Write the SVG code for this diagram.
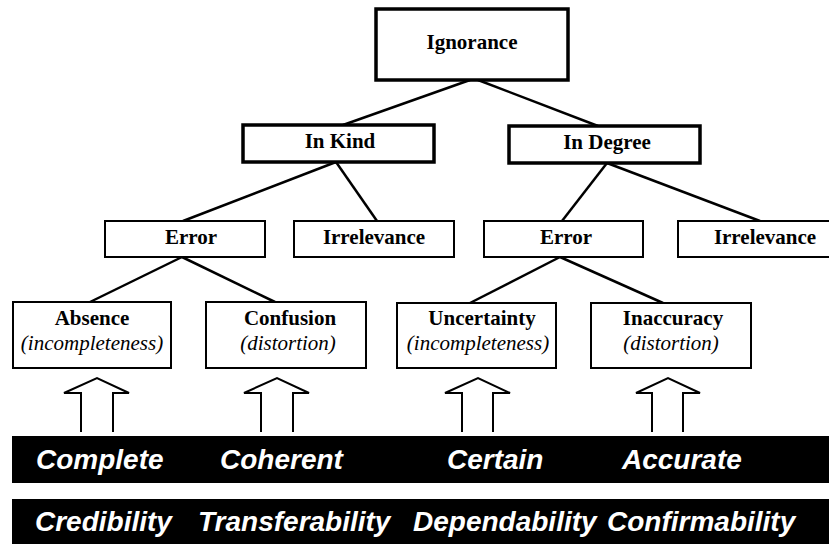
<svg xmlns="http://www.w3.org/2000/svg" width="829" height="544" viewBox="0 0 829 544">
<style>
.thick{fill:#fff;stroke:#000;stroke-width:3.5}
.thin{fill:#fff;stroke:#000;stroke-width:2}
.lbl{font-family:"Liberation Serif","Times New Roman",serif;font-weight:bold;font-size:21px;text-anchor:middle;fill:#000}
.sub{font-family:"Liberation Serif","Times New Roman",serif;font-style:italic;font-size:21px;text-anchor:middle;fill:#000}
.conn line{stroke:#000;stroke-width:2.5}
.arr{fill:none;stroke:#000;stroke-width:2;stroke-linejoin:miter}
.bar{fill:#000}
.wt{font-family:"Liberation Sans",Arial,sans-serif;font-weight:bold;font-style:italic;font-size:28px;fill:#fff}
</style>
<rect width="829" height="544" fill="#fff"/>
<g class="conn" id="connectors">
<line x1="470" y1="80" x2="343" y2="125"/>
<line x1="478" y1="80" x2="598" y2="126"/>
<line x1="336" y1="162" x2="183" y2="221"/>
<line x1="336" y1="162" x2="377" y2="221"/>
<line x1="607" y1="163" x2="562" y2="221"/>
<line x1="607" y1="163" x2="760" y2="221"/>
<line x1="182" y1="257" x2="90" y2="302"/>
<line x1="182" y1="257" x2="275" y2="302"/>
<line x1="560" y1="257" x2="470" y2="303"/>
<line x1="560" y1="257" x2="663" y2="303"/>
</g>
<g id="ignorance"><rect class="thick" x="376" y="9" width="192" height="71"/><text class="lbl" x="472" y="49">Ignorance</text></g>
<g id="inkind"><rect class="thick" x="243" y="125" width="191" height="37"/><text class="lbl" x="340" y="148">In Kind</text></g>
<g id="indegree"><rect class="thick" x="509" y="126" width="191" height="37"/><text class="lbl" x="607" y="149">In Degree</text></g>
<g id="error1"><rect class="thin" x="105" y="221" width="160" height="36"/><text class="lbl" x="191" y="244">Error</text></g>
<g id="irrelevance1"><rect class="thin" x="294" y="221" width="160" height="36"/><text class="lbl" x="374" y="244">Irrelevance</text></g>
<g id="error2"><rect class="thin" x="484" y="221" width="159" height="36"/><text class="lbl" x="566" y="244">Error</text></g>
<g id="irrelevance2"><rect class="thin" x="678" y="221" width="160" height="36"/><text class="lbl" x="765" y="244">Irrelevance</text></g>
<g id="absence"><rect class="thin" x="13" y="302" width="158" height="66"/><text class="lbl" x="92" y="325">Absence</text><text class="sub" x="92" y="350">(incompleteness)</text></g>
<g id="confusion"><rect class="thin" x="206" y="302" width="160" height="66"/><text class="lbl" x="290" y="325">Confusion</text><text class="sub" x="288" y="350">(distortion)</text></g>
<g id="uncertainty"><rect class="thin" x="397" y="303" width="159" height="65"/><text class="lbl" x="482" y="325">Uncertainty</text><text class="sub" x="478" y="350">(incompleteness)</text></g>
<g id="inaccuracy"><rect class="thin" x="591" y="303" width="160" height="65"/><text class="lbl" x="673" y="325">Inaccuracy</text><text class="sub" x="671" y="350">(distortion)</text></g>
<g id="arrows">
<polyline class="arr" points="81,432 81,393 64,393 97,378 129,393 113,393 113,432"/>
<polyline class="arr" points="261,432 261,393 244,393 277,378 309,393 293,393 293,432"/>
<polyline class="arr" points="462,432 462,393 445,393 478,378 510,393 493,393 493,432"/>
<polyline class="arr" points="652,432 652,393 636,393 668,378 700,393 683,393 683,432"/>
</g>
<g id="bar1"><rect class="bar" x="12" y="436" width="817" height="47"/>
<text class="wt" x="36" y="469">Complete</text>
<text class="wt" x="220" y="469">Coherent</text>
<text class="wt" x="447" y="469">Certain</text>
<text class="wt" x="622" y="469">Accurate</text></g>
<g id="bar2"><rect class="bar" x="12" y="499" width="817" height="45"/>
<text class="wt" x="35" y="531">Credibility</text>
<text class="wt" x="198" y="531">Transferability</text>
<text class="wt" x="413" y="531">Dependability</text>
<text class="wt" x="607" y="531">Confirmability</text></g>
</svg>
